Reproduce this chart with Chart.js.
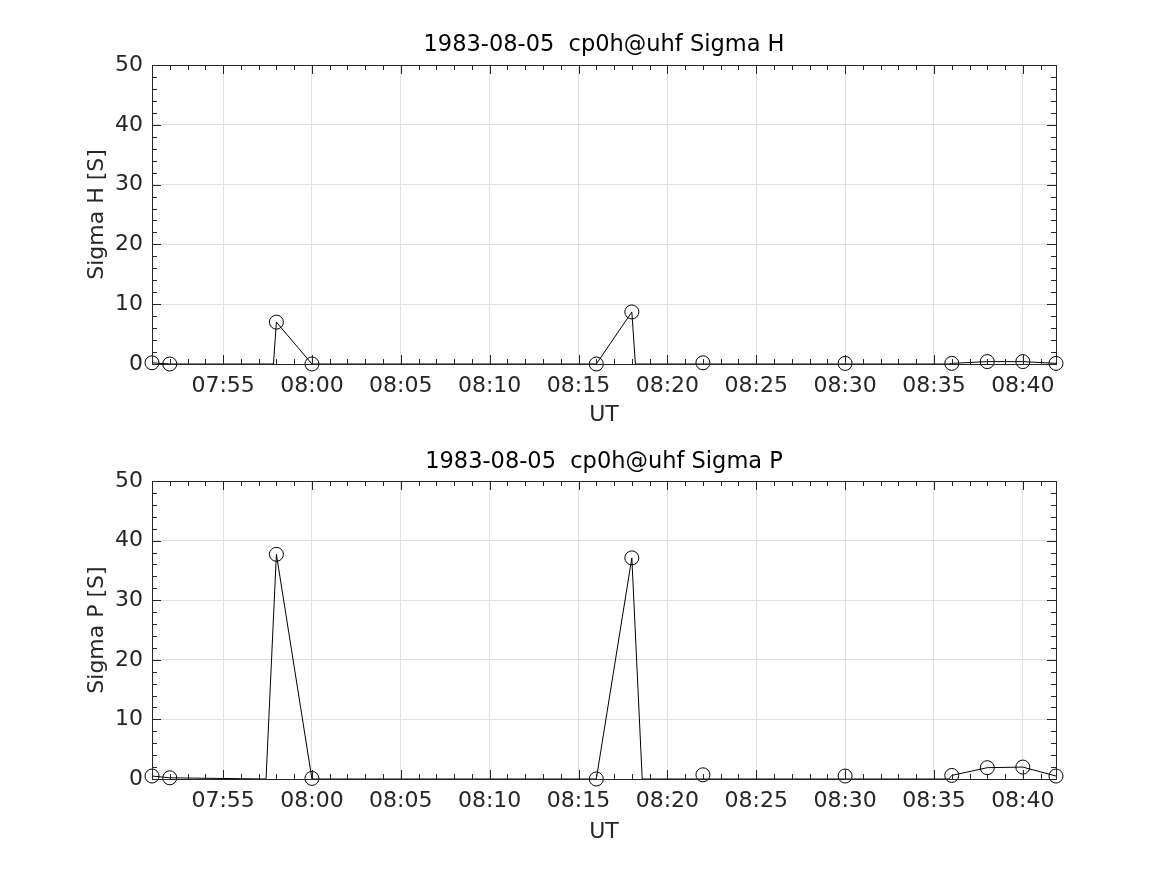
<!DOCTYPE html>
<html>
<head>
<meta charset="utf-8">
<script src="https://cdn.jsdelivr.net/npm/chart.js@4/dist/chart.umd.min.js"></script>
<style>
  html, body { margin: 0; padding: 0; background: #fff; }
  #wrap { position: relative; width: 1167px; height: 875px; }
  canvas { position: absolute; left: 0; }
  #chartH { top: 0; }
  #chartP { top: 437px; }
</style>
</head>
<body>
<div id="wrap">
  <canvas id="chartH" width="1167" height="437"></canvas>
  <canvas id="chartP" width="1167" height="438"></canvas>
</div>
<script>
// sample times (UT) with circle markers
const markerTimes = ["07:51", "07:52", "07:58", "08:00", "08:16", "08:18", "08:22", "08:30", "08:36", "08:38", "08:40", "08:41:52"];
const sigmaH = [0.2, 0.0, 7.0, 0.0, 0.0, 8.7, 0.2, 0.1, 0.1, 0.4, 0.4, 0.1];
const sigmaP = [0.5, 0.2, 37.7, 0.1, 0.0, 37.1, 0.7, 0.5, 0.6, 1.9, 2.0, 0.5];

// the connecting line drops back to zero between the integrations
const lineTimesH = ["07:51", "07:52", "07:57:50", "07:58", "08:00", "08:16", "08:18", "08:18:12", "08:35:50", "08:36", "08:38", "08:40", "08:41:52"];
const lineH = [0.2, 0.0, 0.0, 7.0, 0.0, 0.0, 8.7, 0.0, 0.0, 0.1, 0.4, 0.4, 0.1];
const lineTimesP = ["07:51", "07:52", "07:57:25", "07:58", "08:00", "08:16", "08:18", "08:18:35", "08:35:50", "08:36", "08:38", "08:40", "08:41:52"];
const lineP = [0.5, 0.2, 0.0, 37.7, 0.0, 0.0, 37.1, 0.0, 0.0, 0.6, 1.9, 2.0, 0.5];

const xTickLabels = ["07:55", "08:00", "08:05", "08:10", "08:15", "08:20", "08:25", "08:30", "08:35", "08:40"];
const yTicks = [0, 10, 20, 30, 40, 50];
const xStart = "07:51";
const xEnd = "08:41:52";

const FONT = "'DejaVu Sans', sans-serif";
const AXIS_COLOR = "#262626";

function toMinutes(t) {
  const p = t.split(":").map(Number);
  return p[0] * 60 + p[1] + (p[2] || 0) / 60;
}

function fmtTime(v) {
  const h = Math.floor(v / 60);
  const m = Math.round(v - h * 60);
  return String(h).padStart(2, "0") + ":" + String(m).padStart(2, "0");
}

const xTicks = xTickLabels.map(toMinutes);

// box + inward ticks on all four sides, like a matlab axes
const boxTicks = {
  id: "boxTicks",
  afterDraw(chart) {
    const { ctx, chartArea: a, scales } = chart;
    const xs = scales.x, ys = scales.y;
    ctx.save();
    ctx.strokeStyle = AXIS_COLOR;
    ctx.lineWidth = 1;
    ctx.beginPath();
    for (let m = Math.ceil(xs.min); m <= xs.max; m++) {
      const px = Math.round(xs.getPixelForValue(m)) + 0.5;
      const len = m % 5 === 0 ? 9 : 5;
      ctx.moveTo(px, a.bottom); ctx.lineTo(px, a.bottom - len);
      ctx.moveTo(px, a.top); ctx.lineTo(px, a.top + len);
    }
    for (let v = 0; v <= ys.max; v += 2) {
      const py = Math.round(ys.getPixelForValue(v)) + 0.5;
      const len = v % 10 === 0 ? 9 : 5;
      ctx.moveTo(a.left, py); ctx.lineTo(a.left + len, py);
      ctx.moveTo(a.right, py); ctx.lineTo(a.right - len, py);
    }
    ctx.stroke();
    ctx.strokeRect(Math.round(a.left) + 0.5, Math.round(a.top) + 0.5,
      Math.round(a.right - a.left), Math.round(a.bottom - a.top));
    ctx.restore();
  },
};

function makeChart(id, title, yLabel, lineTimes, lineVals, markVals, pad) {
  const ctx = document.getElementById(id).getContext("2d");
  return new Chart(ctx, {
    type: "scatter",
    data: {
      datasets: [
        {
          data: lineTimes.map((t, i) => ({ x: toMinutes(t), y: lineVals[i] })),
          showLine: true,
          borderColor: "#000",
          borderWidth: 1,
          pointRadius: 0,
          clip: false,
        },
        {
          data: markerTimes.map((t, i) => ({ x: toMinutes(t), y: markVals[i] })),
          showLine: false,
          pointStyle: "circle",
          pointRadius: 7,
          borderColor: "#000",
          borderWidth: 1,
          backgroundColor: "rgba(0,0,0,0)",
          clip: false,
        },
      ],
    },
    options: {
      responsive: false,
      animation: false,
      layout: { padding: { left: 84, right: 111, top: 0, bottom: 0 } },
      plugins: {
        legend: { display: false },
        tooltip: { enabled: false },
        title: {
          display: true,
          fullSize: false,
          text: title,
          color: "#000",
          font: { family: FONT, size: 22.5, weight: "normal" },
          padding: { top: pad.titleTop, bottom: pad.titleBottom },
        },
      },
      scales: {
        x: {
          type: "linear",
          min: toMinutes(xStart),
          max: toMinutes(xEnd),
          afterBuildTicks: (s) => { s.ticks = xTicks.map((v) => ({ value: v })); },
          afterFit: (s) => { s.height = pad.xHeight; },
          grid: { color: "#dfdfdf", drawTicks: false },
          border: { display: false },
          ticks: {
            color: AXIS_COLOR,
            padding: 9,
            maxRotation: 0,
            autoSkip: false,
            font: { family: FONT, size: 22 },
            callback: (v) => fmtTime(v),
          },
          title: {
            display: true,
            text: "UT",
            color: AXIS_COLOR,
            font: { family: FONT, size: 22 },
            padding: { top: 0, bottom: pad.utBottom },
          },
        },
        y: {
          min: 0,
          max: 50,
          afterBuildTicks: (s) => { s.ticks = yTicks.map((v) => ({ value: v })); },
          afterFit: (s) => { s.width = 68; },
          grid: { color: "#dfdfdf", drawTicks: false },
          border: { display: false },
          ticks: {
            color: AXIS_COLOR,
            padding: 9,
            font: { family: FONT, size: 22 },
          },
          title: {
            display: true,
            text: yLabel,
            color: AXIS_COLOR,
            font: { family: FONT, size: 22 },
            padding: { top: 0, bottom: 0 },
          },
        },
      },
    },
    plugins: [boxTicks],
  });
}

makeChart("chartH", "1983-08-05  cp0h@uhf Sigma H", "Sigma H [S]", lineTimesH, lineH, sigmaH,
  { titleTop: 31.5, titleBottom: 6.5, xHeight: 73, utBottom: 9 });
makeChart("chartP", "1983-08-05  cp0h@uhf Sigma P", "Sigma P [S]", lineTimesP, lineP, sigmaP,
  { titleTop: 11.5, titleBottom: 5.5, xHeight: 96, utBottom: 30 });
</script>
</body>
</html>
